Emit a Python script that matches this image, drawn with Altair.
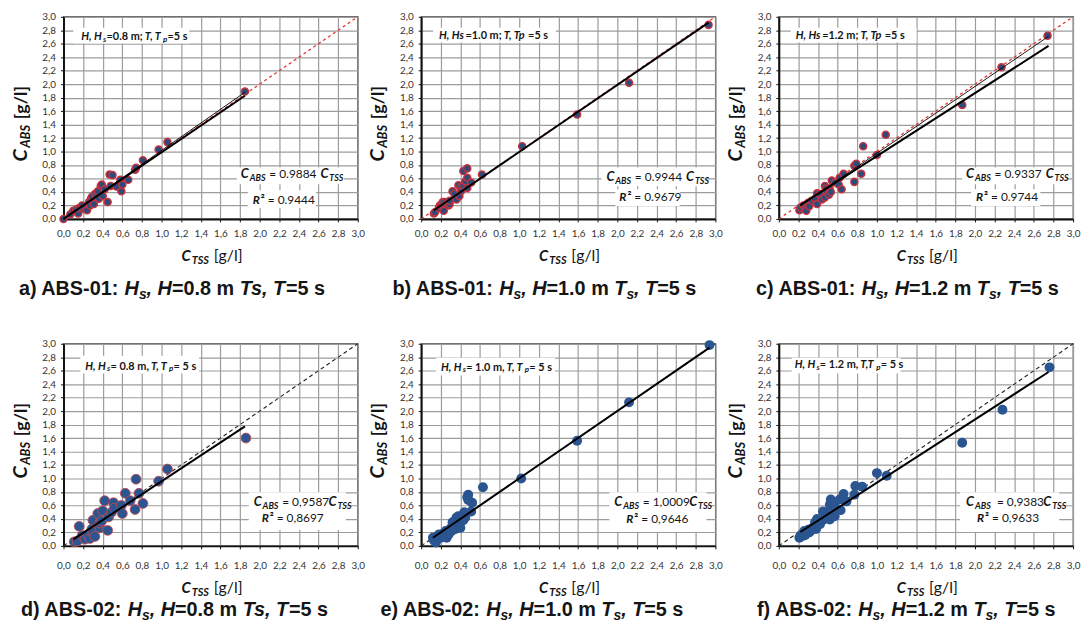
import altair as alt
import pandas as pd

# ---------------- values ----------------
A_TSS = [0.00, 0.07, 0.10, 0.13, 0.15, 0.16, 0.19, 0.20, 0.22, 0.24, 0.26, 0.27, 0.28, 0.29, 0.30, 0.31, 0.32,
         0.34, 0.35, 0.36, 0.38, 0.39, 0.40, 0.42, 0.45, 0.47, 0.48, 0.50, 0.54, 0.58, 0.59, 0.60, 0.66,
         0.73, 0.74, 0.81, 0.97, 1.06, 1.85]
A_ABS = [0.00, 0.07, 0.12, 0.14, 0.08, 0.16, 0.20, 0.15, 0.17, 0.13, 0.25, 0.20, 0.30, 0.33, 0.25, 0.22, 0.37,
         0.36, 0.41, 0.30, 0.49, 0.51, 0.34, 0.44, 0.25, 0.66, 0.49, 0.65, 0.48, 0.58, 0.41, 0.51, 0.58,
         0.73, 0.76, 0.87, 1.03, 1.14, 1.89]

B_TSS = [0.13, 0.14, 0.18, 0.19, 0.21, 0.22, 0.23, 0.24, 0.26, 0.28, 0.29, 0.29, 0.32, 0.34, 0.36, 0.38,
         0.39, 0.40, 0.41, 0.43, 0.43, 0.45, 0.47, 0.47, 0.47, 0.51, 0.62, 1.03, 1.59, 2.12, 2.93]
B_ABS = [0.08, 0.10, 0.16, 0.20, 0.22, 0.25, 0.12, 0.25, 0.22, 0.20, 0.22, 0.27, 0.41, 0.37, 0.29, 0.50,
         0.34, 0.47, 0.42, 0.71, 0.49, 0.56, 0.75, 0.61, 0.46, 0.54, 0.66, 1.08, 1.55, 2.02, 2.88]

C_TSS = [0.21, 0.22, 0.25, 0.27, 0.28, 0.30, 0.31, 0.34, 0.37, 0.39, 0.39, 0.42, 0.44, 0.47, 0.47, 0.48,
         0.49, 0.51, 0.52, 0.53, 0.54, 0.57, 0.61, 0.62, 0.64, 0.66, 0.77, 0.77, 0.79, 0.84, 0.86, 1.00,
         1.09, 1.87, 2.27, 2.74]
C_ABS = [0.13, 0.17, 0.20, 0.15, 0.12, 0.24, 0.19, 0.27, 0.30, 0.38, 0.22, 0.37, 0.29, 0.32, 0.49, 0.45,
         0.41, 0.36, 0.44, 0.40, 0.57, 0.54, 0.51, 0.61, 0.44, 0.67, 0.55, 0.79, 0.82, 0.67, 1.08, 0.95,
         1.25, 1.69, 2.25, 2.72]

D_TSS = [0.11, 0.14, 0.16, 0.19, 0.22, 0.25, 0.27, 0.29, 0.30, 0.30, 0.32, 0.35, 0.37, 0.37, 0.39, 0.40,
         0.42, 0.45, 0.46, 0.49, 0.51, 0.52, 0.59, 0.60, 0.63, 0.68, 0.73, 0.74, 0.77, 0.81, 0.97, 1.06, 1.86]
D_ABS = [0.06, 0.07, 0.29, 0.15, 0.10, 0.16, 0.11, 0.25, 0.38, 0.20, 0.14, 0.48, 0.27, 0.34, 0.37, 0.52,
         0.67, 0.23, 0.43, 0.50, 0.64, 0.56, 0.60, 0.48, 0.78, 0.67, 0.54, 0.99, 0.78, 0.63, 0.96, 1.14, 1.60]

E_TSS = [0.12, 0.13, 0.15, 0.16, 0.18, 0.20, 0.22, 0.23, 0.25, 0.26, 0.28, 0.30, 0.31, 0.32, 0.33, 0.35,
         0.35, 0.36, 0.38, 0.38, 0.40, 0.42, 0.43, 0.44, 0.45, 0.47, 0.48, 0.48, 0.51, 0.52, 0.63, 1.02,
         1.59, 2.12, 2.94]
E_ABS = [0.12, 0.08, 0.05, 0.14, 0.17, 0.12, 0.18, 0.15, 0.22, 0.12, 0.17, 0.26, 0.22, 0.35, 0.30, 0.25,
         0.37, 0.42, 0.44, 0.32, 0.27, 0.40, 0.38, 0.50, 0.42, 0.72, 0.76, 0.68, 0.51, 0.64, 0.87, 1.00,
         1.56, 2.13, 2.98]

F_TSS = [0.21, 0.22, 0.23, 0.25, 0.26, 0.27, 0.29, 0.30, 0.31, 0.33, 0.35, 0.37, 0.38, 0.39, 0.42, 0.45,
         0.46, 0.48, 0.50, 0.52, 0.52, 0.53, 0.55, 0.57, 0.57, 0.62, 0.63, 0.66, 0.69, 0.77, 0.78, 0.85,
         1.00, 1.10, 1.87, 2.28, 2.76]
F_ABS = [0.12, 0.14, 0.17, 0.15, 0.22, 0.16, 0.20, 0.24, 0.20, 0.23, 0.27, 0.35, 0.25, 0.40, 0.32, 0.51,
         0.39, 0.44, 0.49, 0.61, 0.39, 0.69, 0.48, 0.58, 0.44, 0.69, 0.53, 0.77, 0.66, 0.76, 0.89, 0.88,
         1.08, 1.04, 1.53, 2.02, 2.65]

FIT_SLOPE = [0.9884, 0.9944, 0.9337, 0.9587, 1.0009, 0.9383]
FIT_XMIN = [0.00, 0.13, 0.22, 0.10, 0.12, 0.22]
FIT_XMAX = [1.85, 2.93, 2.75, 1.85, 2.94, 2.75]
THIN_A_X = [0.00, 1.85]
THIN_A_Y = [0.00, 1.88]
THIN_C_X = [0.22, 2.75]
THIN_C_Y = [0.20, 2.71]
ONE_TO_ONE = [0.0, 3.0]
TICKS = [0.0, 0.2, 0.4, 0.6, 0.8, 1.0, 1.2, 1.4, 1.6, 1.8, 2.0, 2.2, 2.4, 2.6, 2.8, 3.0]

SLOPE_TXT = ["0.9884", "0.9944", "0.9337", "0,9587", "1,0009", "0,9383"]
R2_TXT = ["0.9444", "0.9679", "0.9744", "0,8697", "0,9646", "0,9633"]
HEIGHT_TXT = ["0.8", "1.0", "1.2", "0.8", "1.0", "1.2"]
DEVICE_TXT = ["ABS-01", "ABS-01", "ABS-01", "ABS-02", "ABS-02", "ABS-02"]
LETTER_TXT = ["a", "b", "c", "d", "e", "f"]
UNIT_TXT = "[g/l]"

# ---------------- layout / style ----------------
W, H = 297, 204
XS, YS = W / 3.0, H / 3.0
CAL = "Lato"
ARB = "Liberation Sans"
GRID = "#9c9c9c"
TXT = "#151515"

ARIAL_B = {' ': .278, 'a': .556, 'b': .611, 'c': .556, 'd': .611, 'e': .556, 'f': .333, ')': .333,
           '(': .333, 'A': .722, 'B': .722, 'S': .667, '-': .333, ':': .333, ',': .278, '.': .278,
           '=': .584, 'H': .722, 'T': .611, 'm': .889, 's': .556}
LATO = {' ': .20, ',': .22, '.': .22, ';': .23, ':': .23, '=': .58, '-': .35, '[': .31, ']': .31,
        '/': .36, '\u00b2': .37, 'A': .68, 'B': .65, 'C': .67, 'H': .76, 'R': .66, 'S': .54, 'T': .60,
        'g': .51, 'l': .24, 'm': .82, 'p': .55, 's': .42}


def text_w(t, size, font, weight):
    if font == ARB:
        tbl, dig, dflt, k = ARIAL_B, .556, .6, 1.0
    else:
        tbl, dig, dflt, k = LATO, .58, .55, (1.03 if weight == 'bold' else 1.0)
    return k * size * sum(tbl.get(ch, dig if ch.isdigit() else dflt) for ch in t)


def rich(px, py, parts, font, angle=0):
    rows = []
    for (t, size, weight, style, shift) in parts:
        lead = t[:len(t) - len(t.lstrip())]
        off = text_w(lead, size, font, weight)
        if t.strip():
            if angle == 0:
                rows.append(dict(x=(px + off) / XS, y=3 - (py + shift) / YS, text=t.strip(), size=size,
                                 font=font, weight=weight, style=style, angle=0))
            else:
                rows.append(dict(x=(px + shift) / XS, y=3 - (py - off) / YS, text=t.strip(), size=size,
                                 font=font, weight=weight, style=style, angle=270))
        adv = text_w(t, size, font, weight)
        if angle == 0:
            px += adv
        else:
            py -= adv
    return rows


B, N, I = 'bold', 'normal', 'italic'

# per-panel annotation positions in pixels relative to the plot's top-left
BOX1 = [((10, 11, 127, 27), (18, 23)), ((12, 11, 136, 26), (18, 22)), ((12, 11, 139, 26), (17, 22)),
        ((17, 12, 137, 30), (22, 26)), ((15, 14, 135, 32), (20, 27)), ((13, 14, 123, 30), (16, 24))]
EQBOX = [[(175, 152, 283, 169), (186, 175, 255, 193)], [(182, 152, 286, 171), (196, 174, 261, 191)],
         [(185, 152, 290, 169), (194, 174, 264, 191)], [(187, 150, 285, 188)], [(190, 150, 288, 190)],
         [(183, 150, 283, 190)]]
EQPOS = [(179, 163), (187, 166), (189, 163), (192, 164), (195, 164), (189, 164)]
R2POS = [(191, 189), (200, 186), (199, 186), (200, 180), (207, 181), (200, 180)]
SUBPOS = [(-45, 281), (-29, 281), (-23, 281), (-43, 275), (-41, 275), (-22, 275)]


def box1_parts(i):
    h = HEIGHT_TXT[i]
    if i == 0:
        return [("H, H", 11, B, I, 0), ("s", 8, B, I, 2), ("=" + h + " m; ", 11, B, N, 0),
                ("T, T", 11, B, I, 0), ("p", 8, B, I, 2), ("=5 s", 11, B, N, 0)]
    if i in (1, 2):
        return [("H, Hs", 11, B, I, 0), ("=" + h + " m; ", 11, B, N, 0),
                ("T, Tp", 11, B, I, 0), ("=5 s", 11, B, N, 0)]
    tt = "T, T" if i != 5 else "T,T"
    return [("H, H", 11, B, I, 0), ("s", 8, B, I, 2), ("= " + h + " m, ", 11, B, N, 0),
            (tt, 11, B, I, 0), ("p", 8, B, I, 2), ("= 5 s", 11, B, N, 0)]


def eq_parts(i):
    if i < 3:
        mid = " = " + SLOPE_TXT[i] + "  "
    elif i == 5:
        mid = "  = " + SLOPE_TXT[i]
    else:
        mid = " = " + SLOPE_TXT[i]
    return [("C", 13, B, I, 0), ("ABS", 9, B, I, 3), (mid, 12, N, N, 0), ("C", 13, B, I, 0), ("TSS", 9, B, I, 3)]


def r2_parts(i):
    return [("R", 12, B, I, 0), ("\u00b2", 12, B, N, 0), (" = " + R2_TXT[i], 12, N, N, 0)]


def sub_parts(i):
    head = LETTER_TXT[i] + ") " + DEVICE_TXT[i] + ": "
    h = HEIGHT_TXT[i]
    if i in (0, 3):
        return [(head, 20, B, N, 0), ("H", 20, B, I, 0), ("s", 14, B, I, 4), (", H", 20, B, I, 0),
                ("=" + h + " m ", 20, B, N, 0), ("Ts, T", 20, B, I, 0), ("=5 s", 20, B, N, 0)]
    return [(head, 20, B, N, 0), ("H", 20, B, I, 0), ("s", 14, B, I, 4), (", H", 20, B, I, 0),
            ("=" + h + " m ", 20, B, N, 0), ("T", 20, B, I, 0), ("s", 14, B, I, 4), (", T", 20, B, I, 0),
            ("=5 s", 20, B, N, 0)]


SC = alt.Scale(domain=[0, 3], nice=False, zero=False)
LBL = "replace(format(datum.value, '.1f'), '.', ',')"


def axis(pad):
    return alt.Axis(values=TICKS, labelExpr=LBL, title=None, grid=True, gridColor=GRID, gridWidth=1.2,
                    domainColor='#111', domainWidth=2, tickColor='#111', tickSize=3, labelFont=CAL,
                    labelFontSize=10, labelColor='#333', labelPadding=pad, labelOverlap=False,
                    labelFlush=False, labelAngle=0)


def panel(i, tss, abs_):
    row = i // 3
    xa = axis(7 if row == 0 else 12)
    ya = axis(5)

    def X(f):
        return alt.X(f, type='quantitative', scale=SC, axis=xa)

    def Y(f):
        return alt.Y(f, type='quantitative', scale=SC, axis=ya)

    layers = []
    # white label boxes
    rects = [BOX1[i][0]] + EQBOX[i]
    rdf = pd.DataFrame([dict(x0=r[0] / XS, x1=r[2] / XS, y0=3 - r[1] / YS, y1=3 - r[3] / YS) for r in rects])
    layers.append(alt.Chart(rdf).mark_rect(fill='white').encode(
        x=X('x0'), x2='x1', y=Y('y0'), y2='y1'))
    # 1:1 line
    one = pd.DataFrame({'x': ONE_TO_ONE, 'y': ONE_TO_ONE})
    if row == 0:
        layers.append(alt.Chart(one).mark_line(color='#e03535', strokeWidth=1.3, strokeDash=[3, 3]).encode(
            x=X('x'), y=Y('y')))
    else:
        layers.append(alt.Chart(one).mark_line(color='#222', strokeWidth=1.1, strokeDash=[4, 3]).encode(
            x=X('x'), y=Y('y')))
    # points
    pts = pd.DataFrame({'x': tss, 'y': abs_})
    if row == 0:
        pm = alt.Chart(pts).mark_circle(size=52, fill='#2d4a7c', stroke='#c8323c', strokeWidth=1.4, opacity=1)
    elif i == 3:
        pm = alt.Chart(pts).mark_circle(size=100, fill='#2b5590', stroke='#d24848', strokeWidth=0.8, opacity=1)
    else:
        pm = alt.Chart(pts).mark_circle(size=100, fill='#2b5590', opacity=1)
    layers.append(pm.encode(x=X('x'), y=Y('y')))
    # regression line
    fx = [FIT_XMIN[i], FIT_XMAX[i]]
    fit = pd.DataFrame({'x': fx, 'y': [FIT_SLOPE[i] * v for v in fx]})
    layers.append(alt.Chart(fit).mark_line(color='black', strokeWidth=2).encode(x=X('x'), y=Y('y')))
    if i == 0:
        thin = pd.DataFrame({'x': THIN_A_X, 'y': THIN_A_Y})
        layers.append(alt.Chart(thin).mark_line(color='black', strokeWidth=0.9).encode(x=X('x'), y=Y('y')))
    if i == 2:
        thin = pd.DataFrame({'x': THIN_C_X, 'y': THIN_C_Y})
        layers.append(alt.Chart(thin).mark_line(color='black', strokeWidth=0.9).encode(x=X('x'), y=Y('y')))

    # texts
    rows = []
    rows += rich(BOX1[i][1][0], BOX1[i][1][1], box1_parts(i), CAL)
    rows += rich(EQPOS[i][0], EQPOS[i][1], eq_parts(i), CAL)
    rows += rich(R2POS[i][0], R2POS[i][1], r2_parts(i), CAL)
    ytop = 146 if row == 0 else 136
    rows += rich(-37, ytop, [("C", 20, B, I, 0), ("ABS", 13, B, I, 3), (" " + UNIT_TXT, 18, B, N, 0)],
                 CAL, angle=270)
    xb = H + (42 if row == 0 else 48)
    rows += rich(119, xb, [("C", 15, B, I, 0), ("TSS", 11, B, I, 3), (" " + UNIT_TXT, 16, N, N, 0)], CAL)
    rows += rich(SUBPOS[i][0], SUBPOS[i][1], sub_parts(i), ARB)
    tdf = pd.DataFrame(rows)
    for (font, weight, style, ang), g in tdf.groupby(['font', 'weight', 'style', 'angle']):
        layers.append(alt.Chart(g.reset_index(drop=True)).mark_text(
            align='left', baseline='alphabetic', font=font, fontWeight=weight, fontStyle=style,
            angle=int(ang), color=TXT).encode(
            x=X('x'), y=Y('y'), text='text:N', size=alt.Size('size:Q', scale=None, legend=None)))
    return alt.layer(*layers).properties(width=W, height=H)


DATA = [(A_TSS, A_ABS), (B_TSS, B_ABS), (C_TSS, C_ABS), (D_TSS, D_ABS), (E_TSS, E_ABS), (F_TSS, F_ABS)]
panels = [panel(i, t, a) for i, (t, a) in enumerate(DATA)]

chart = alt.concat(*panels, columns=3, spacing={'row': 126, 'column': 64}, bounds='flush').configure_view(
    stroke='#333', strokeWidth=1.3).properties(padding={'left': 2, 'top': 0, 'right': 0, 'bottom': 0})

chart.save("out.html", embed_options={"renderer": "svg", "actions": False})
